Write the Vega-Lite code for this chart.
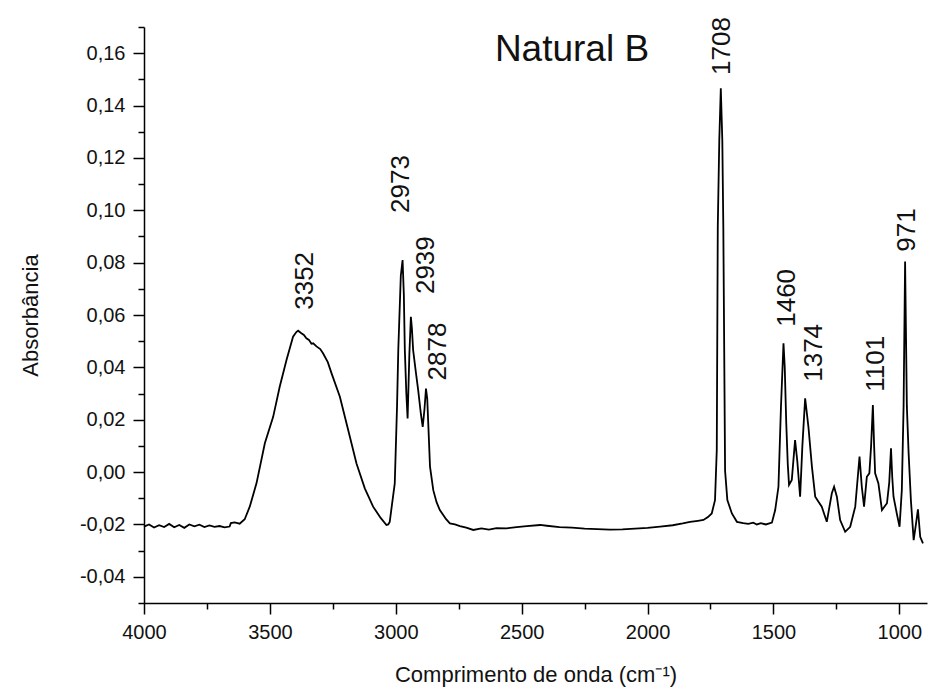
{
  "$schema": "https://vega.github.io/schema/vega-lite/v6.json",
  "width": 783,
  "height": 576,
  "autosize": "none",
  "padding": {"left": 144, "top": 27, "right": 1, "bottom": 97},
  "background": "white",
  "config": {
    "view": {"stroke": null},
    "font": "Liberation Sans",
    "axis": {
      "domainColor": "#000000", "domainWidth": 1.5, "tickColor": "#000000", "tickWidth": 1.5,
      "labelColor": "#111111", "titleColor": "#111111", "labelFont": "Liberation Sans", "titleFont": "Liberation Sans",
      "labelFontSize": 20, "titleFontSize": 22, "titleFontWeight": "normal", "grid": false
    }
  },
  "datasets": {
    "spectrum": [
      {"wn": 4000, "a": -0.0208}, {"wn": 3980, "a": -0.0200}, {"wn": 3960, "a": -0.0212}, {"wn": 3940, "a": -0.0203},
      {"wn": 3920, "a": -0.0210}, {"wn": 3900, "a": -0.0198}, {"wn": 3880, "a": -0.0211}, {"wn": 3860, "a": -0.0202},
      {"wn": 3840, "a": -0.0213}, {"wn": 3820, "a": -0.0200}, {"wn": 3800, "a": -0.0207}, {"wn": 3780, "a": -0.0201},
      {"wn": 3760, "a": -0.0210}, {"wn": 3740, "a": -0.0204}, {"wn": 3720, "a": -0.0209}, {"wn": 3700, "a": -0.0206},
      {"wn": 3680, "a": -0.0211}, {"wn": 3660, "a": -0.0208}, {"wn": 3655, "a": -0.0195}, {"wn": 3640, "a": -0.0192},
      {"wn": 3620, "a": -0.0197}, {"wn": 3600, "a": -0.0180}, {"wn": 3580, "a": -0.0132}, {"wn": 3553, "a": -0.0042},
      {"wn": 3520, "a": 0.0110}, {"wn": 3487, "a": 0.0211}, {"wn": 3461, "a": 0.0326}, {"wn": 3434, "a": 0.0428},
      {"wn": 3408, "a": 0.0517}, {"wn": 3395, "a": 0.0535}, {"wn": 3388, "a": 0.0540}, {"wn": 3375, "a": 0.0530},
      {"wn": 3365, "a": 0.0524}, {"wn": 3355, "a": 0.0511}, {"wn": 3345, "a": 0.0505}, {"wn": 3335, "a": 0.0490},
      {"wn": 3328, "a": 0.0492}, {"wn": 3315, "a": 0.0480}, {"wn": 3300, "a": 0.0470}, {"wn": 3289, "a": 0.0454},
      {"wn": 3270, "a": 0.0420}, {"wn": 3255, "a": 0.0377}, {"wn": 3222, "a": 0.0288}, {"wn": 3189, "a": 0.0161},
      {"wn": 3156, "a": 0.0033}, {"wn": 3123, "a": -0.0062}, {"wn": 3090, "a": -0.0132}, {"wn": 3060, "a": -0.0175},
      {"wn": 3037, "a": -0.0202}, {"wn": 3030, "a": -0.0200}, {"wn": 3024, "a": -0.0190}, {"wn": 3004, "a": -0.0043},
      {"wn": 2995, "a": 0.0250}, {"wn": 2990, "a": 0.0466}, {"wn": 2980, "a": 0.0750}, {"wn": 2973, "a": 0.0810},
      {"wn": 2968, "a": 0.0680}, {"wn": 2964, "a": 0.0466}, {"wn": 2958, "a": 0.0300}, {"wn": 2953, "a": 0.0205},
      {"wn": 2946, "a": 0.0450}, {"wn": 2940, "a": 0.0593}, {"wn": 2936, "a": 0.0550}, {"wn": 2931, "a": 0.0466},
      {"wn": 2920, "a": 0.0380}, {"wn": 2911, "a": 0.0313}, {"wn": 2900, "a": 0.0220}, {"wn": 2893, "a": 0.0173},
      {"wn": 2886, "a": 0.0240}, {"wn": 2880, "a": 0.0319}, {"wn": 2875, "a": 0.0280}, {"wn": 2871, "a": 0.0187},
      {"wn": 2864, "a": 0.0021}, {"wn": 2851, "a": -0.0069}, {"wn": 2838, "a": -0.0115}, {"wn": 2825, "a": -0.0145},
      {"wn": 2800, "a": -0.0180}, {"wn": 2785, "a": -0.0196}, {"wn": 2765, "a": -0.0200}, {"wn": 2745, "a": -0.0206},
      {"wn": 2720, "a": -0.0212}, {"wn": 2692, "a": -0.0221}, {"wn": 2660, "a": -0.0215}, {"wn": 2630, "a": -0.0220},
      {"wn": 2600, "a": -0.0214}, {"wn": 2560, "a": -0.0215}, {"wn": 2520, "a": -0.0210}, {"wn": 2480, "a": -0.0206},
      {"wn": 2427, "a": -0.0202}, {"wn": 2400, "a": -0.0205}, {"wn": 2350, "a": -0.0210}, {"wn": 2300, "a": -0.0212},
      {"wn": 2250, "a": -0.0216}, {"wn": 2200, "a": -0.0218}, {"wn": 2150, "a": -0.0220}, {"wn": 2100, "a": -0.0219},
      {"wn": 2050, "a": -0.0216}, {"wn": 2000, "a": -0.0213}, {"wn": 1950, "a": -0.0208}, {"wn": 1900, "a": -0.0203},
      {"wn": 1860, "a": -0.0196}, {"wn": 1831, "a": -0.0190}, {"wn": 1800, "a": -0.0186}, {"wn": 1778, "a": -0.0183},
      {"wn": 1760, "a": -0.0172}, {"wn": 1745, "a": -0.0158}, {"wn": 1732, "a": -0.0107}, {"wn": 1725, "a": 0.0084},
      {"wn": 1721, "a": 0.0937}, {"wn": 1715, "a": 0.1268}, {"wn": 1709, "a": 0.1466}, {"wn": 1703, "a": 0.1268},
      {"wn": 1699, "a": 0.0937}, {"wn": 1692, "a": 0.0005}, {"wn": 1683, "a": -0.0107}, {"wn": 1665, "a": -0.0158},
      {"wn": 1645, "a": -0.0190}, {"wn": 1620, "a": -0.0195}, {"wn": 1600, "a": -0.0198}, {"wn": 1580, "a": -0.0193},
      {"wn": 1566, "a": -0.0200}, {"wn": 1550, "a": -0.0195}, {"wn": 1530, "a": -0.0200}, {"wn": 1506, "a": -0.0193},
      {"wn": 1493, "a": -0.0145}, {"wn": 1480, "a": -0.0056}, {"wn": 1470, "a": 0.0250}, {"wn": 1460, "a": 0.0492},
      {"wn": 1455, "a": 0.0400}, {"wn": 1449, "a": 0.0186}, {"wn": 1443, "a": 0.0030}, {"wn": 1438, "a": -0.0049},
      {"wn": 1427, "a": -0.0030}, {"wn": 1414, "a": 0.0122}, {"wn": 1405, "a": 0.0040}, {"wn": 1394, "a": -0.0094},
      {"wn": 1385, "a": 0.0100}, {"wn": 1374, "a": 0.0282}, {"wn": 1361, "a": 0.0173}, {"wn": 1347, "a": 0.0020},
      {"wn": 1334, "a": -0.0094}, {"wn": 1321, "a": -0.0113}, {"wn": 1308, "a": -0.0132}, {"wn": 1288, "a": -0.0190},
      {"wn": 1268, "a": -0.0081}, {"wn": 1259, "a": -0.0056}, {"wn": 1248, "a": -0.0094}, {"wn": 1235, "a": -0.0183},
      {"wn": 1215, "a": -0.0228}, {"wn": 1195, "a": -0.0209}, {"wn": 1175, "a": -0.0132}, {"wn": 1158, "a": 0.0059},
      {"wn": 1149, "a": -0.0056}, {"wn": 1140, "a": -0.0132}, {"wn": 1129, "a": -0.0018}, {"wn": 1119, "a": -0.0005},
      {"wn": 1112, "a": 0.0100}, {"wn": 1105, "a": 0.0256}, {"wn": 1100, "a": 0.0100}, {"wn": 1096, "a": -0.0005},
      {"wn": 1083, "a": -0.0043}, {"wn": 1069, "a": -0.0145}, {"wn": 1049, "a": -0.0119}, {"wn": 1040, "a": -0.0040},
      {"wn": 1033, "a": 0.0091}, {"wn": 1028, "a": -0.0020}, {"wn": 1023, "a": -0.0094}, {"wn": 1010, "a": -0.0158},
      {"wn": 999, "a": -0.0209}, {"wn": 990, "a": -0.0069}, {"wn": 983, "a": 0.0250}, {"wn": 977, "a": 0.0804},
      {"wn": 970, "a": 0.0250}, {"wn": 963, "a": 0.0072}, {"wn": 954, "a": -0.0107}, {"wn": 943, "a": -0.0260},
      {"wn": 934, "a": -0.0200}, {"wn": 926, "a": -0.0142}, {"wn": 917, "a": -0.0247}, {"wn": 906, "a": -0.0272}
    ],
    "peaks": [
      {"label": "3352", "wn": 3360, "a": 0.062},
      {"label": "2973", "wn": 2980, "a": 0.099},
      {"label": "2939", "wn": 2880, "a": 0.068},
      {"label": "2878", "wn": 2834, "a": 0.035},
      {"label": "1708", "wn": 1705, "a": 0.1517},
      {"label": "1460", "wn": 1445, "a": 0.0555},
      {"label": "1374", "wn": 1340, "a": 0.0345},
      {"label": "1101", "wn": 1092, "a": 0.0307},
      {"label": "971", "wn": 970, "a": 0.0842}
    ],
    "heading": [
      {"label": "Natural B", "wn": 2300, "a": 0.1612}
    ]
  },
  "encoding": {
    "x": {
      "field": "wn", "type": "quantitative",
      "scale": {"domain": [4000, 890], "nice": false, "zero": false},
      "axis": {
        "title": "Comprimento de onda (cm⁻¹)",
        "values": [4000, 3750, 3500, 3250, 3000, 2750, 2500, 2250, 2000, 1750, 1500, 1250, 1000],
        "labelExpr": "datum.value % 500 === 0 ? datum.value : ''",
        "tickSize": {"condition": {"test": "datum.value % 500 === 0", "value": 11}, "value": 6},
        "labelPadding": 8, "titlePadding": 22, "labelFlush": false
      }
    },
    "y": {
      "field": "a", "type": "quantitative",
      "scale": {"domain": [-0.05, 0.17], "nice": false, "zero": false},
      "axis": {
        "title": "Absorbância",
        "values": [-0.05, -0.04, -0.03, -0.02, -0.01, 0, 0.01, 0.02, 0.03, 0.04, 0.05, 0.06, 0.07, 0.08, 0.09, 0.1, 0.11, 0.12, 0.13, 0.14, 0.15, 0.16, 0.17],
        "labelExpr": "round(datum.value * 100) % 2 == 0 && round(datum.value*100) > -5 && round(datum.value*100) < 17 ? replace(replace(format(datum.value, '.2f'), '.', ','), '−', '-') : ''",
        "tickSize": {"condition": {"test": "round(datum.value * 100) % 2 == 0", "value": 11}, "value": 6},
        "labelPadding": 8, "titlePadding": 37, "labelFlush": false
      }
    }
  },
  "layer": [
    {
      "data": {"name": "spectrum"},
      "mark": {"type": "line", "color": "#000000", "strokeWidth": 1.8}
    },
    {
      "data": {"name": "peaks"},
      "mark": {"type": "text", "angle": 270, "align": "left", "baseline": "middle", "fontSize": 26, "color": "#111111", "font": "Liberation Sans"},
      "encoding": {"text": {"field": "label"}}
    },
    {
      "data": {"name": "heading"},
      "mark": {"type": "text", "align": "center", "baseline": "middle", "fontSize": 37, "color": "#111111", "font": "Liberation Sans"},
      "encoding": {"text": {"field": "label"}}
    }
  ]
}
